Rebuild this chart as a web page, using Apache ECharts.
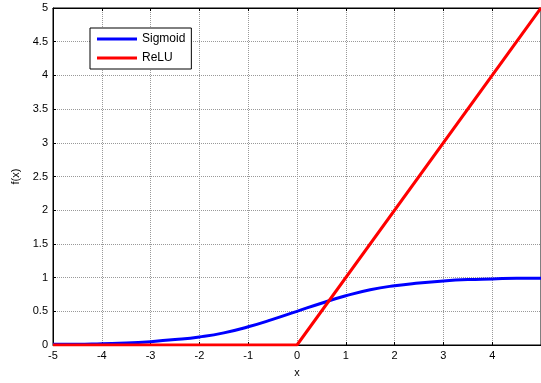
<!DOCTYPE html>
<html>
<head>
<meta charset="utf-8">
<script src="https://cdn.jsdelivr.net/npm/echarts@6/dist/echarts.min.js"></script>
<style>
  html, body { margin: 0; padding: 0; background: #fff; }
  #chart { width: 541px; height: 383px; }
</style>
</head>
<body>
<div id="chart"></div>
<script>
// values
var sigmoidX = [-5, -4.5, -4, -3.5, -3, -2.5, -2, -1.5, -1, -0.5, 0, 0.5, 1, 1.5, 2, 2.5, 3, 3.5, 4, 4.5, 5]
var sigmoidY = [0.01, 0.01, 0.02, 0.03, 0.05, 0.08, 0.12, 0.18, 0.27, 0.38, 0.5, 0.62, 0.73, 0.82, 0.88, 0.92, 0.95, 0.97, 0.98, 0.99, 0.99]
var reluX = [-5, 0, 5]
var reluY = [0, 0, 5]
var xTicks = [-5, -4, -3, -2, -1, 0, 1, 2, 3, 4]

var font = 'Liberation Sans, Arial, sans-serif'

function pairs (xs, ys) {
  var out = []
  for (var i = 0; i < xs.length; i++) out.push([xs[i], ys[i]])
  return out
}

var myChart = echarts.init(document.getElementById('chart'))

// dotted grey grid like the original
var gridLine = { show: true, lineStyle: { color: '#999', type: [1, 1], width: 1 } }

var option = {
  animation: false,
  grid: {
    left: 53, top: 8, width: 490, height: 338,
    show: true, borderColor: '#000', borderWidth: 1, backgroundColor: '#fff'
  },
  legend: {
    left: 90, top: 28,
    orient: 'vertical',
    itemWidth: 40, itemHeight: 3, itemGap: 7,
    padding: [5, 6, 5, 7],
    borderColor: '#000', borderWidth: 1, backgroundColor: '#fff',
    textStyle: { fontFamily: font, fontSize: 12, color: '#000' },
    data: [
      { name: 'Sigmoid', icon: 'rect' },
      { name: 'ReLU', icon: 'rect' }
    ]
  },
  xAxis: [{
    type: 'value', min: -5, max: 5, interval: 1,
    name: 'x', nameLocation: 'middle', nameGap: 22,
    nameTextStyle: { fontFamily: font, fontSize: 11, color: '#000' },
    axisLine: { show: true, onZero: false, lineStyle: { color: '#000', width: 1 } },
    axisTick: { show: true, inside: true, length: 3, lineStyle: { color: '#000' } },
    axisLabel: {
      fontFamily: font, fontSize: 11, color: '#000', margin: 5, showMaxLabel: false,
      formatter: function (v) { return xTicks.indexOf(v) >= 0 ? String(v) : '' }
    },
    splitLine: gridLine
  }, {
    type: 'value', min: -5, max: 5, interval: 1, position: 'top',
    axisLine: { show: true, onZero: false, lineStyle: { color: '#000', width: 1 } },
    axisTick: { show: true, inside: true, length: 3, lineStyle: { color: '#000' } },
    axisLabel: { show: false },
    splitLine: { show: false }
  }],
  yAxis: {
    type: 'value', min: 0, max: 5, interval: 0.5,
    name: 'f(x)', nameLocation: 'middle', nameGap: 32, nameRotate: 90,
    nameTextStyle: { fontFamily: font, fontSize: 11, color: '#000' },
    axisLine: { show: true, onZero: false, lineStyle: { color: '#000', width: 1 } },
    axisTick: { show: true, inside: true, length: 3, lineStyle: { color: '#000' } },
    axisLabel: { fontFamily: font, fontSize: 11, color: '#000', margin: 5 },
    splitLine: gridLine
  },
  series: [
    {
      name: 'Sigmoid', type: 'line', smooth: true, symbol: 'none',
      color: '#0000ff', lineStyle: { width: 3, color: '#0000ff' },
      data: pairs(sigmoidX, sigmoidY), z: 3
    },
    {
      name: 'ReLU', type: 'line', symbol: 'none',
      color: '#ff0000', lineStyle: { width: 3, color: '#ff0000' },
      data: pairs(reluX, reluY), z: 4
    }
  ]
}

myChart.setOption(option)
</script>
</body>
</html>
